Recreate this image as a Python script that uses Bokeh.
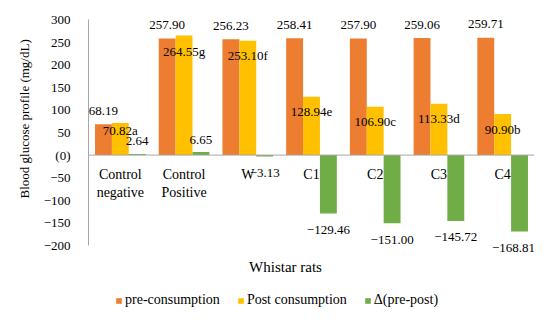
from bokeh.plotting import figure
from bokeh.models import (ColumnDataSource, FactorRange, FixedTicker, Span, Title,
                          Legend, LegendItem)
from bokeh.transform import dodge
from bokeh.core.properties import value
from bokeh.embed import file_html
from bokeh.resources import INLINE

# ---------------- data ----------------
categories = ["Control negative", "Control Positive", "W", "C1", "C2", "C3", "C4"]
category_labels = ["Control\nnegative", "Control\nPositive", "W", "C1", "C2", "C3", "C4"]
pre_consumption = [68.19, 257.90, 256.23, 258.41, 257.90, 259.06, 259.71]
post_consumption = [70.82, 264.55, 253.10, 128.94, 106.90, 113.33, 90.90]
post_letters = ["a", "g", "f", "e", "c", "d", "b"]
delta = [2.64, 6.65, -3.13, -129.46, -151.00, -145.72, -168.81]
y_ticks = [-200, -150, -100, -50, 0, 50, 100, 150, 200, 250, 300]
y_tick_labels = ["\u2212200", "\u2212150", "\u2212100", "\u221250", "(0)", "50",
                 "100", "150", "200", "250", "300"]
series_names = ["pre-consumption", "Post consumption", "\u0394(pre-post)"]
x_title = "Whistar rats"
y_title = "Blood glucose profile (mg/dL)"

# ---------------- style ----------------
FONT = "Liberation Serif"
C_PRE, C_POST, C_DELTA = "#ED7D31", "#FFC000", "#70AD47"
AXIS_GRAY = "#a6a6a6"
BW = 0.265
post_label_dy = [7, 16, 15, 15, 15, 15, 15]      # px below bar top
delta_label_dx = [0, 0, 0, 0, 0, 0, -6]          # keep last label on canvas

def fmt(v):
    s = f"{abs(v):.2f}"
    return ("\u2212" + s) if v < 0 else s

src = ColumnDataSource(dict(
    cat=categories,
    catlab=category_labels,
    pre=pre_consumption,
    post=post_consumption,
    delta=delta,
    pre_txt=[fmt(v) for v in pre_consumption],
    post_txt=[fmt(v) + l for v, l in zip(post_consumption, post_letters)],
    post_dy=post_label_dy,
    delta_txt=[fmt(v) for v in delta],
    delta_dy=[-12.5 if v >= 0 else 16.5 for v in delta],
    delta_dx=delta_label_dx,
    zero=[0] * len(categories),
))

# frame spans from the 300 line down to the bottom of the figure; the axis is bounded
p = figure(width=534, height=308, x_range=FactorRange(*categories, range_padding=0),
           y_range=(-339.4, 300), output_backend="svg", toolbar_location=None,
           min_border_left=88, min_border_right=0, min_border_top=19,
           min_border_bottom=0)
p.outline_line_color = None
p.grid.visible = False
p.xaxis.visible = False

ya = p.yaxis[0]
ya.bounds = (-200, 300)
ya.ticker = FixedTicker(ticks=y_ticks)
ya.major_label_overrides = {t: l for t, l in zip(y_ticks, y_tick_labels)}
ya.major_tick_line_color = None
ya.minor_tick_line_color = None
ya.axis_line_color = AXIS_GRAY
ya.major_label_standoff = 12
ya.major_label_text_font = FONT
ya.major_label_text_font_size = "13px"
ya.major_label_text_color = "black"

r_pre = p.vbar(x=dodge("cat", -BW, range=p.x_range), top="pre", width=BW,
               source=src, color=C_PRE, line_color=None)
r_post = p.vbar(x=dodge("cat", 0, range=p.x_range), top="post", width=BW,
                source=src, color=C_POST, line_color=None)
r_delta = p.vbar(x=dodge("cat", BW, range=p.x_range), top="delta", width=BW,
                 source=src, color=C_DELTA, line_color=None)

p.add_layout(Span(location=0, dimension="width", line_color=AXIS_GRAY, line_width=1))

txt = dict(text_font=value(FONT), text_font_size="13px", text_color="black",
           text_align="center", text_baseline="middle", source=src)
p.text(x=dodge("cat", -BW, range=p.x_range), y="pre", text="pre_txt", y_offset=-13.5, **txt)
p.text(x=dodge("cat", 0, range=p.x_range), y="post", text="post_txt", y_offset="post_dy", **txt)
p.text(x=dodge("cat", BW, range=p.x_range), y="delta", text="delta_txt",
       x_offset="delta_dx", y_offset="delta_dy", **txt)

p.text(x="cat", y="zero", text="catlab", y_offset=12, text_font=value(FONT),
       text_font_size="14px", text_color="black", text_align="center",
       text_baseline="top", source=src)

# x-axis title, drawn inside the extended frame
p.text(x=[3.092], y=[-246.5], text=[x_title], text_font=value(FONT),
       text_font_size="15px", text_color="black", text_align="center",
       text_baseline="middle")

p.add_layout(Title(text=y_title, align="left", offset=110, standoff=18,
                   text_font=FONT, text_font_size="13px", text_font_style="normal",
                   text_color="black"), "left")

legend = Legend(items=[LegendItem(label=series_names[0], renderers=[r_pre]),
                       LegendItem(label=series_names[1], renderers=[r_post]),
                       LegendItem(label=series_names[2], renderers=[r_delta])],
                location=(27, 0), orientation="horizontal",
                glyph_width=7, glyph_height=7, label_standoff=3, spacing=17,
                padding=0, margin=0, background_fill_alpha=0,
                border_line_color=None, label_text_font=FONT,
                label_text_font_size="14px", label_text_color="black")
p.add_layout(legend)

open("out.html", "w").write(file_html(p, INLINE))
